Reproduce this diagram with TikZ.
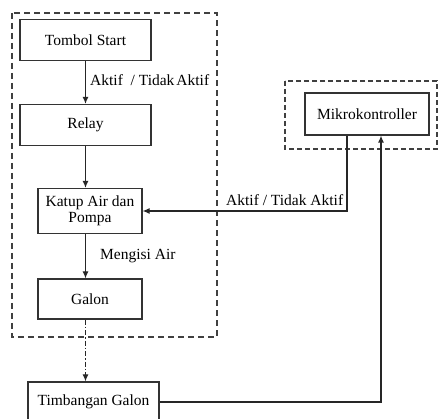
\documentclass[tikz,border=0pt]{standalone}
\usepackage{fontspec}
\setmainfont{Liberation Serif}
\usetikzlibrary{arrows.meta,calc}
\begin{document}
\begin{tikzpicture}[x=1pt,y=-1pt,
  font=\fontsize{15.5}{16.5}\selectfont,
  blk/.style={draw=black!80,line width=1.2pt,inner sep=0pt,align=center},
  con/.style={draw=black!85,line width=1.2pt,-{Latex[length=7pt,width=6pt]}},
  grp/.style={draw=black!75,line width=1.3pt,dash pattern=on 6pt off 4pt},
  grpb/.style={draw=black!75,line width=1.2pt,dash pattern=on 5pt off 3pt}]
\useasboundingbox (0,0) rectangle (440,419);
\fill[white] (0,0) rectangle (440,419);
\draw[grp] (12,13) rectangle (217,337);
\draw[grpb] (285,81) rectangle (437,149);
\node[blk,minimum width=131pt,minimum height=41pt] (tombol) at (85.5,40) {Tombol Start};
\node[blk,minimum width=131pt,minimum height=41pt] (relay) at (85.5,125) {Relay};
\node[blk,minimum width=104pt,minimum height=45pt] (katup) at (90,211) {Katup Air dan\\Pompa};
\node[blk,minimum width=104pt,minimum height=40pt] (galon) at (90,299) {Galon};
\node[blk,minimum width=131pt,minimum height=40pt] (timb) at (93.5,402) {Timbangan Galon};
\node[blk,minimum width=124pt,minimum height=42pt] (mikro) at (367,114) {Mikrokontroller};
\draw[con] (tombol.south) -- (relay.north);
\draw[con] (relay.south) -- (relay.south |- katup.north);
\draw[con] (katup.south -| relay.south) -- (galon.north -| relay.south);
\draw[con,dash pattern=on 5pt off 2pt on 1.5pt off 2pt] (galon.south -| relay.south) -- (timb.north -| relay.south);
\coordinate (mo) at ($(mikro.south)+(-20,0)$);
\coordinate (mi) at ($(mikro.south)+(14,0)$);
\draw[con] (mo) |- (katup.east);
\draw[con] (timb.east) -| (mi);
\node[anchor=west,inner sep=0pt] (l1) at (90,80) {Aktif\ \ / Tidak\kern2pt Aktif};
\node[anchor=west,inner sep=0pt] (l2) at (226,200) {Aktif / Tidak Aktif};
\node[anchor=west,inner sep=0pt] (l3) at (100,256) {Mengisi Air};
\end{tikzpicture}
\end{document}
